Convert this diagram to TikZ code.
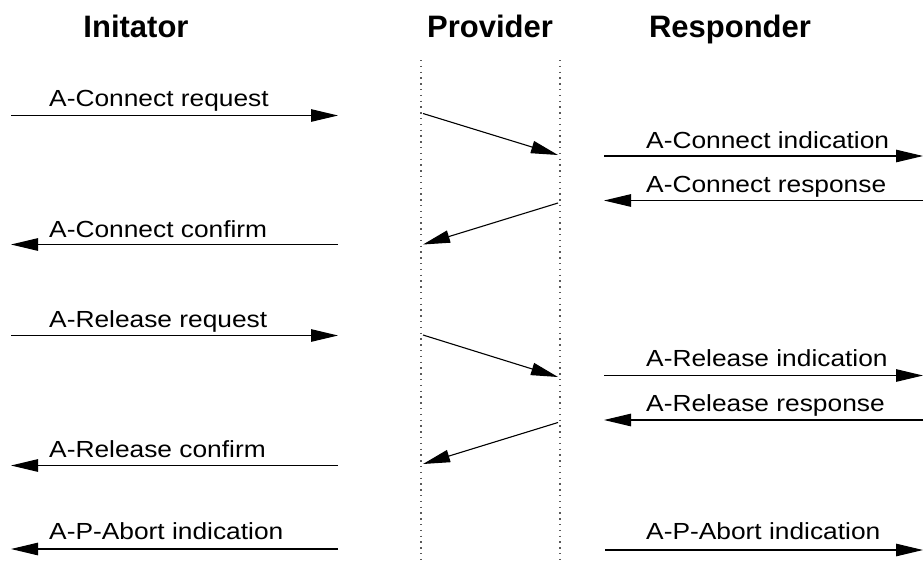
\documentclass[tikz,border=0pt]{standalone}
\usepackage{fontspec}
\setmainfont{Liberation Sans}
\newfontfamily\msgfont[FakeStretch=1.13]{Liberation Sans}
\usetikzlibrary{arrows.meta}
\begin{document}
\begin{tikzpicture}[x=1pt,y=-1pt,
  msg/.style={line width=1.1pt,-{Triangle[length=27pt,width=12.5pt]}},
  lifeline/.style={black!65,line width=1.3pt,dash pattern=on 1.3pt off 4.5pt},
  lbl/.style={anchor=base west,inner sep=0pt,font=\msgfont\fontsize{23.3}{28}\selectfont},
  head/.style={anchor=base,inner sep=0pt,font=\bfseries\fontsize{31}{37}\selectfont}]
\useasboundingbox (0,0) rectangle (924,566);

% column headings
\node[head] (hinit) at (136,37.5) {Initator};
\node[head] (hprov) at (490,37) {Provider};
\node[head] (hresp) at (730,37) {Responder};

% provider boundaries
\coordinate (pl top) at (421,60);  \coordinate (pl bot) at (421,562);
\coordinate (pr top) at (560,60);  \coordinate (pr bot) at (560,562);
\draw[lifeline] (pl top) -- (pl bot);
\draw[lifeline] (pr top) -- (pr bot);

% ---- connection establishment ----
\coordinate (cr s) at (11,115.5);  \coordinate (cr e) at (338,115.5);
\draw[msg] (cr s) -- (cr e);
\node[lbl] (cr) at (49,106) {A-Connect request};

\coordinate (c1 s) at (423,113.5); \coordinate (c1 e) at (558,155);
\draw[msg] (c1 s) -- (c1 e);

\coordinate (ci s) at (604,156);   \coordinate (ci e) at (923,156);
\draw[msg] (ci s) -- (ci e);
\node[lbl] (ci) at (646,148.5) {A-Connect indication};

\coordinate (cp s) at (923,200.5); \coordinate (cp e) at (604,200.5);
\draw[msg] (cp s) -- (cp e);
\node[lbl] (cp) at (646,192) {A-Connect response};

\coordinate (c2 s) at (558,203);   \coordinate (c2 e) at (423,244.5);
\draw[msg] (c2 s) -- (c2 e);

\coordinate (cc s) at (338,244.5); \coordinate (cc e) at (11,244.5);
\draw[msg] (cc s) -- (cc e);
\node[lbl] (cc) at (49,237) {A-Connect confirm};

% ---- release ----
\coordinate (rr s) at (11,335.5);  \coordinate (rr e) at (338,335.5);
\draw[msg] (rr s) -- (rr e);
\node[lbl] (rr) at (49,327) {A-Release request};

\coordinate (r1 s) at (423,335);   \coordinate (r1 e) at (558,377);
\draw[msg] (r1 s) -- (r1 e);

\coordinate (ri s) at (604,375.5); \coordinate (ri e) at (923,375.5);
\draw[msg] (ri s) -- (ri e);
\node[lbl] (ri) at (646,366.5) {A-Release indication};

\coordinate (rp s) at (923,420);   \coordinate (rp e) at (604,420);
\draw[msg] (rp s) -- (rp e);
\node[lbl] (rp) at (646,411) {A-Release response};

\coordinate (r2 s) at (558,422.5); \coordinate (r2 e) at (423,464);
\draw[msg] (r2 s) -- (r2 e);

\coordinate (rc s) at (338,465.5); \coordinate (rc e) at (11,465.5);
\draw[msg] (rc s) -- (rc e);
\node[lbl] (rc) at (49,457) {A-Release confirm};

% ---- provider abort ----
\coordinate (pa s) at (338,549);   \coordinate (pa e) at (11,549);
\draw[msg] (pa s) -- (pa e);
\node[lbl] (pa) at (49,539) {A-P-Abort indication};

\coordinate (pb s) at (605,550);   \coordinate (pb e) at (923,550);
\draw[msg] (pb s) -- (pb e);
\node[lbl] (pb) at (646,539) {A-P-Abort indication};
\end{tikzpicture}
\end{document}
